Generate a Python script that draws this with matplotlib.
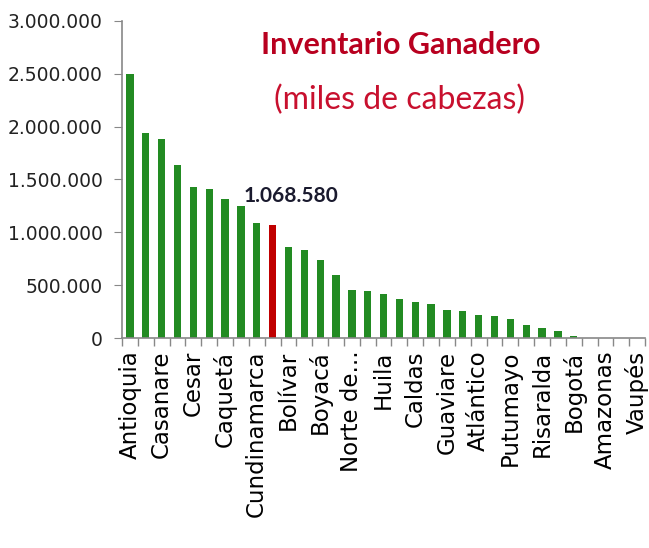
import matplotlib
matplotlib.use("Agg")
import matplotlib.pyplot as plt
from matplotlib.ticker import FuncFormatter, MultipleLocator

# departamentos (solo se ven las etiquetas pares)
departamentos = ["Antioquia", "", "Casanare", "", "Cesar", "", "Caquetá", "",
                 "Cundinamarca", "", "Bolívar", "", "Boyacá", "", "Norte de...", "",
                 "Huila", "", "Caldas", "", "Guaviare", "", "Atlántico", "",
                 "Putumayo", "", "Risaralda", "", "Bogotá", "", "Amazonas", "", "Vaupés"]
cabezas = [2498000, 1936000, 1879000, 1638000, 1425000, 1409000, 1317000, 1250000,
           1085000, 1068580, 863000, 831000, 736000, 600000, 457000, 450000,
           419000, 368000, 343000, 324000, 267000, 260000, 222000, 210000,
           184000, 124000, 98000, 67000, 20000, 3000, 1500, 1000, 800]
destacado = 9

verde = "#228B22"
rojo = "#C00000"
colores = [rojo if i == destacado else verde for i in range(len(cabezas))]

fig = plt.figure(figsize=(6.49, 5.48), dpi=100)
ax = fig.add_axes([0.188, 0.383, 0.806, 0.579])

x = range(len(cabezas))
ax.bar(x, cabezas, width=0.46, color=colores, zorder=2)

ax.set_xlim(-0.5, len(cabezas) - 0.5)
ax.set_ylim(0, 3000000)
ax.yaxis.set_major_locator(MultipleLocator(500000))
ax.yaxis.set_major_formatter(FuncFormatter(lambda v, p: f"{int(v):,}".replace(",", ".")))

ax.set_xticks(list(x))
ax.set_xticklabels(departamentos, rotation=90, fontsize=16.5, family="DejaVu Sans")
ax.set_xticks([i + 0.5 for i in range(-1, len(cabezas))], minor=True)
ax.tick_params(axis="x", which="major", length=0, pad=9)
ax.tick_params(axis="x", which="minor", length=6, color="#888888", width=1)
ax.tick_params(axis="y", length=6, color="#888888", labelsize=13.5, labelcolor="#222222", pad=8)

for s in ["top", "right"]:
    ax.spines[s].set_visible(False)
for s in ["left", "bottom"]:
    ax.spines[s].set_color("#888888")
    ax.spines[s].set_linewidth(1.2)

ax.annotate(f"{cabezas[destacado]:,}".replace(",", "."), xy=(destacado, cabezas[destacado]),
            xytext=(18, 29), textcoords="offset pixels", ha="center", va="center",
            fontsize=15, fontweight="bold", family="Lato", color="#1a1a2e")

fig.text(401 / 649, 1 - 45 / 548, "Inventario Ganadero", ha="center", va="center",
         fontsize=22, fontweight="bold", family="Lato", color="#B8001F")
fig.text(400 / 649, 1 - 100 / 548, "(miles de cabezas)", ha="center", va="center",
         fontsize=23, family="Lato", color="#C8102E")

fig.savefig("out.png", dpi=100)
